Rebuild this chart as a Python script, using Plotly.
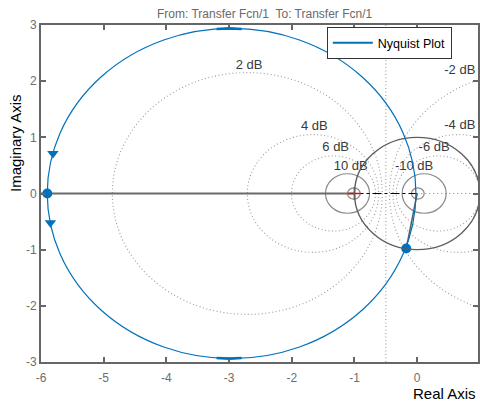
import plotly.graph_objects as go

# ---------------- data ----------------
x_ticks = [-6, -5, -4, -3, -2, -1, 0]
y_ticks = [-3, -2, -1, 0, 1, 2, 3]

# constant-magnitude (M) circles, in dB
db_levels = [2, 4, 6, 10, 20, -2, -4, -6, -10, -20]
db_label_text = ["2 dB", "4 dB", "6 dB", "10 dB", "-2 dB", "-4 dB", "-6 dB", "-10 dB"]
db_label_x = [-2.68, -1.64, -1.30, -1.06, 0.68, 0.68, 0.27, -0.05]
db_label_y = [2.28, 1.19, 0.82, 0.48, 2.19, 1.21, 0.82, 0.48]

# Nyquist curve (a circle)
nyq_center = -2.96
nyq_radius = 2.94
nyq_top_x = [-3.2, -3.0, -2.8]
nyq_top_y = [2.93, 2.94, 2.93]

# marked points on the curve
point_x = [-5.90, -0.175]
point_y = [0.0, -0.98]
arrow_x = [-5.81, -5.85]
arrow_y = [0.71, -0.52]

critical_x = [-1.0]
critical_y = [0.0]

# ---------------- styling ----------------
BLUE = "#0072BD"
AX = "#666666"
FONT = "Liberation Sans, Arial, sans-serif"

fig = go.Figure()
shapes = []

for db in db_levels:
    m2 = 10 ** (db / 10.0)
    m = 10 ** (db / 20.0)
    c = -m2 / (m2 - 1)
    r = abs(m / (m2 - 1))
    if abs(db) >= 10:
        line = dict(color="#8a8a8a", width=1.2)
    else:
        line = dict(color="#9a9a9a", width=1.1, dash="1px,2.5px")
    shapes.append(dict(type="circle", xref="x", yref="y", x0=c - r, x1=c + r,
                       y0=-r, y1=r, line=line, layer="below"))

# 0 dB line
shapes.append(dict(type="line", xref="x", yref="paper", x0=-0.5, x1=-0.5, y0=0, y1=1,
                   line=dict(color="#9a9a9a", width=1.1, dash="1px,2.5px"), layer="below"))
# unit circle
shapes.append(dict(type="circle", xref="x", yref="y", x0=-1, x1=1, y0=-1, y1=1,
                   line=dict(color="#5f5f5f", width=1.4)))
# Nyquist circle
shapes.append(dict(type="circle", xref="x", yref="y",
                   x0=nyq_center - nyq_radius, x1=nyq_center + nyq_radius,
                   y0=-nyq_radius, y1=nyq_radius,
                   line=dict(color=BLUE, width=1.2)))

fig.update_layout(shapes=shapes)

# real axis pieces
fig.add_trace(go.Scatter(x=[x_ticks[0], critical_x[0]], y=[0, 0], mode="lines",
                         line=dict(color="#6a6a6a", width=2.2), showlegend=False, hoverinfo="skip"))
fig.add_trace(go.Scatter(x=[critical_x[0], 0], y=[0, 0], mode="lines",
                         line=dict(color="black", width=1, dash="dashdot"), showlegend=False, hoverinfo="skip"))
fig.add_trace(go.Scatter(x=[0, 1], y=[0, 0], mode="lines",
                         line=dict(color="#8c8c8c", width=1, dash="1px,3px"), showlegend=False, hoverinfo="skip"))
# phase-margin line
fig.add_trace(go.Scatter(x=[0, point_x[1]], y=[0, point_y[1]], mode="lines",
                         line=dict(color="#5f5f5f", width=1.5), showlegend=False, hoverinfo="skip"))

# thicker segments on top/bottom of the curve
fig.add_trace(go.Scatter(x=nyq_top_x, y=nyq_top_y, mode="lines",
                         line=dict(color=BLUE, width=2.6), showlegend=False, hoverinfo="skip"))
fig.add_trace(go.Scatter(x=nyq_top_x, y=[-v for v in nyq_top_y], mode="lines",
                         line=dict(color=BLUE, width=2.6), showlegend=False, hoverinfo="skip"))

# legend entry
fig.add_trace(go.Scatter(x=[None], y=[None], mode="lines", name="Nyquist Plot",
                         line=dict(color=BLUE, width=2)))

# arrows and markers
fig.add_trace(go.Scatter(x=arrow_x, y=arrow_y, mode="markers",
                         marker=dict(symbol="triangle-down", size=10, color=BLUE),
                         showlegend=False, hoverinfo="skip"))
fig.add_trace(go.Scatter(x=point_x, y=point_y, mode="markers",
                         marker=dict(symbol="circle", size=10, color=BLUE),
                         showlegend=False, hoverinfo="skip"))
fig.add_trace(go.Scatter(x=critical_x, y=critical_y, mode="markers",
                         marker=dict(symbol="cross-thin", size=9, color="red",
                                     line=dict(color="red", width=1.6)),
                         showlegend=False, hoverinfo="skip"))

# dB labels
fig.add_trace(go.Scatter(x=db_label_x, y=db_label_y, mode="text", text=db_label_text,
                         textfont=dict(color="#3a3a3a", size=13, family=FONT),
                         showlegend=False, hoverinfo="skip"))

fig.update_xaxes(range=[-6, 0.97], tickvals=x_ticks, ticktext=[str(v) for v in x_ticks],
                 showgrid=False, zeroline=False, showline=True, linecolor=AX, linewidth=1.8,
                 mirror="ticks", ticks="inside", ticklen=5, tickcolor=AX, tickwidth=1.5,
                 tickfont=dict(color="#6e6e6e", size=12, family=FONT), ticklabelstandoff=4)
fig.update_yaxes(range=[-3, 3], tickvals=y_ticks, ticktext=[str(v) for v in y_ticks],
                 showgrid=False, zeroline=False, showline=True, linecolor=AX, linewidth=1.8,
                 mirror="ticks", ticks="inside", ticklen=5, tickcolor=AX, tickwidth=1.5,
                 tickfont=dict(color="#6e6e6e", size=12, family=FONT))

fig.update_layout(
    width=480, height=404,
    margin=dict(l=41, r=0, t=25, b=42),
    paper_bgcolor="white", plot_bgcolor="white",
    font=dict(family=FONT),
    legend=dict(x=0.654, y=0.994, xanchor="left", yanchor="top",
                bgcolor="white", bordercolor="#333333", borderwidth=1,
                font=dict(color="black", size=12.5, family=FONT),
                itemwidth=40, tracegroupgap=0),
    annotations=[
        dict(text="From: Transfer Fcn/1  To: Transfer Fcn/1", xref="paper", yref="paper",
             x=(266 - 41) / 439, y=1, yshift=11, xanchor="center", yanchor="middle",
             showarrow=False, font=dict(color="#6a6a6a", size=12, family=FONT)),
        dict(text="Real Axis", xref="paper", yref="paper", x=1, y=0, yshift=-31,
             xanchor="right", yanchor="middle", showarrow=False,
             font=dict(color="black", size=15, family=FONT)),
        dict(text="Imaginary Axis", xref="paper", yref="paper", x=0, xshift=-26,
             y=(362 - 143) / 337, xanchor="center", yanchor="middle", textangle=-90,
             showarrow=False, font=dict(color="black", size=15, family=FONT)),
    ],
)

fig.write_html("out.html", post_script="document.body.style.margin='0';",
               config={"displayModeBar": False})
